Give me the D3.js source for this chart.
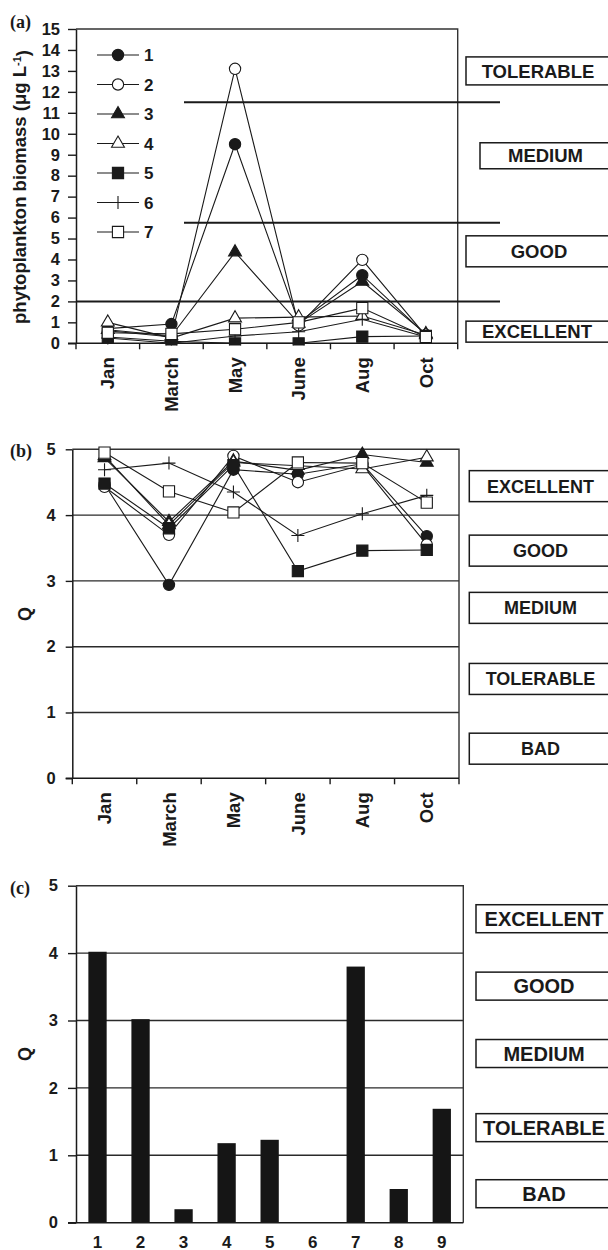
<!DOCTYPE html>
<html>
<head>
<meta charset="utf-8">
<script src="https://cdn.jsdelivr.net/npm/d3@7"></script>
<style>
  body { margin: 0; background: #fff; }
  svg { display: block; }
  text { font-family: "Liberation Sans", Arial, Helvetica, sans-serif; font-weight: bold; fill: #1a1a1a; }
  .plab { font-family: "Liberation Serif", "Times New Roman", serif; font-weight: bold; }
</style>
</head>
<body>
<svg id="fig" width="608" height="1250"></svg>
<script>
// ---- data ----
const months = ["Jan", "March", "May", "June", "Aug", "Oct"];
const siteNames = ["1", "2", "3", "4", "5", "6", "7"];

// (a) phytoplankton biomass, µg L-1, per site and month
const biomass1 = [0.7, 0.92, 9.5, 1.0, 3.25, 0.4];
const biomass2 = [0.6, 0.3, 13.1, 0.85, 3.98, 0.35];
const biomass3 = [0.65, 0.35, 4.35, 0.95, 2.95, 0.45];
const biomass4 = [1.0, 0.25, 1.2, 1.25, 1.3, 0.4];
const biomass5 = [0.3, 0.1, 0.0, 0.0, 0.32, 0.35];
const biomass6 = [0.25, 0.0, 0.35, 0.55, 1.15, 0.3];
const biomass7 = [0.5, 0.45, 0.67, 1.0, 1.68, 0.3];
const biomassTicks = [0, 1, 2, 3, 4, 5, 6, 7, 8, 9, 10, 11, 12, 13, 14, 15];
const biomassLimits = [11.5, 5.75, 2];
const biomassClasses = ["TOLERABLE", "MEDIUM", "GOOD", "EXCELLENT"];

// (b) Q index per site and month
const q1 = [4.47, 2.94, 4.69, 4.62, 4.78, 3.68];
const q2 = [4.43, 3.7, 4.9, 4.5, 4.76, 3.55];
const q3 = [4.87, 3.9, 4.82, 4.68, 4.92, 4.8];
const q4 = [4.9, 3.85, 4.8, 4.75, 4.7, 4.88];
const q5 = [4.48, 3.8, 4.76, 3.15, 3.46, 3.47];
const q6 = [4.69, 4.79, 4.35, 3.69, 4.02, 4.3];
const q7 = [4.95, 4.36, 4.04, 4.8, 4.79, 4.19];
const qTicks = [0, 1, 2, 3, 4, 5];
const qClasses = ["EXCELLENT", "GOOD", "MEDIUM", "TOLERABLE", "BAD"];

// (c) Q index per station
const stations = ["1", "2", "3", "4", "5", "6", "7", "8", "9"];
const stationQ = [4.02, 3.02, 0.2, 1.18, 1.23, 0, 3.8, 0.5, 1.69];

// ---- drawing ----
const ink = "#1a1a1a";
const svg = d3.select("#fig");

const biomassSeries = [biomass1, biomass2, biomass3, biomass4, biomass5, biomass6, biomass7];
const qSeries = [q1, q2, q3, q4, q5, q6, q7];

// marker style for each site
const markerStyles = [
  { shape: "circle", filled: true },
  { shape: "circle", filled: false },
  { shape: "triangle", filled: true },
  { shape: "triangle", filled: false },
  { shape: "square", filled: true },
  { shape: "plus", filled: false },
  { shape: "square", filled: false }
];

function markerD(shape) {
  if (shape === "circle") return d3.symbol(d3.symbolCircle, 100)();
  if (shape === "triangle") return d3.symbol(d3.symbolTriangle, 72)();
  if (shape === "square") return d3.symbol(d3.symbolSquare, 125)();
  return "M-6.5,0H6.5M0,-6.5V6.5";
}

function drawMarker(g, x, y, style) {
  g.append("path")
    .attr("d", markerD(style.shape))
    .attr("transform", `translate(${x},${y})`)
    .attr("fill", style.shape === "plus" ? "none" : (style.filled ? ink : "#fff"))
    .attr("stroke", ink)
    .attr("stroke-width", 1.1);
}

function leftAxis(g, y, ticks, x0, tickLen, pad, fontSize) {
  const ax = g.append("g").attr("transform", `translate(${x0},0)`)
    .call(d3.axisLeft(y).tickValues(ticks).tickSize(tickLen).tickSizeOuter(0).tickPadding(pad).tickFormat(d3.format("d")));
  ax.select(".domain").attr("stroke", ink).attr("stroke-width", 1.5);
  ax.selectAll(".tick line").attr("stroke", ink).attr("stroke-width", 1.4);
  ax.selectAll(".tick text").attr("fill", ink).style("font-size", fontSize + "px")
    .style("font-family", "'Liberation Sans', Arial, sans-serif").style("font-weight", "bold");
}

function bottomMonthAxis(g, x, yPix, xLeft, xRight) {
  g.append("line").attr("x1", xLeft).attr("x2", xRight).attr("y1", yPix).attr("y2", yPix)
    .attr("stroke", ink).attr("stroke-width", 1.5);
  const edges = months.map(m => x(m)).concat([x(months[months.length - 1]) + x.bandwidth()]);
  g.selectAll(null).data(edges).join("line")
    .attr("x1", d => d).attr("x2", d => d).attr("y1", yPix).attr("y2", yPix + 6)
    .attr("stroke", ink).attr("stroke-width", 1.4);
  g.selectAll(null).data(months).join("text")
    .attr("transform", d => `translate(${x(d) + x.bandwidth() / 2},${yPix + 14}) rotate(-90)`)
    .attr("text-anchor", "end").attr("dy", "0.36em")
    .style("font-size", "18.5px").text(d => d);
}

function frame(g, xl, xr, yt, yb) {
  g.append("path").attr("d", `M${xl},${yt}H${xr}V${yb}`)
    .attr("fill", "none").attr("stroke", "#333").attr("stroke-width", 1.4);
}

function classBoxes(g, items, fontSize) {
  items.forEach(b => {
    g.append("rect").attr("x", b.x).attr("y", b.cy - b.h / 2).attr("width", 150).attr("height", b.h)
      .attr("fill", "#fff").attr("stroke", ink).attr("stroke-width", 1.5);
    g.append("text").attr("x", b.tx).attr("y", b.cy).attr("dy", "0.36em")
      .attr("text-anchor", "middle").style("font-size", fontSize + "px").text(b.label);
  });
}

function seriesLines(g, x, y, series) {
  const line = d3.line().x((d, i) => x(months[i]) + x.bandwidth() / 2).y(d => y(d));
  series.forEach((vals, s) => {
    g.append("path").attr("d", line(vals)).attr("fill", "none").attr("stroke", ink).attr("stroke-width", 1.1);
    vals.forEach((v, i) => drawMarker(g, x(months[i]) + x.bandwidth() / 2, y(v), markerStyles[s]));
  });
}

// ===== (a) biomass =====
{
  const x = d3.scaleBand().domain(months).range([76, 457.7]);
  const y = d3.scaleLinear().domain([0, 15]).range([343.3, 29]);
  const g = svg.append("g");

  svg.append("defs").append("clipPath").attr("id", "clipA")
    .append("rect").attr("x", 60).attr("y", 10).attr("width", 420).attr("height", 335.5);

  frame(g, 76, 457.7, 29, 343.3);

  // class limits
  const limitStart = [184, 184, 76];
  biomassLimits.forEach((v, i) => {
    g.append("line").attr("x1", limitStart[i]).attr("x2", 500).attr("y1", y(v)).attr("y2", y(v))
      .attr("stroke", ink).attr("stroke-width", 2);
  });

  const data = g.append("g").attr("clip-path", "url(#clipA)");
  seriesLines(data, x, y, biomassSeries);

  leftAxis(g, y, biomassTicks, 76, 8, 8, 16.5);
  bottomMonthAxis(g, x, 343.3, 68, 457.7);

  // legend
  siteNames.forEach((n, i) => {
    const ly = 55 + i * 29.5;
    g.append("line").attr("x1", 97).attr("x2", 139).attr("y1", ly).attr("y2", ly)
      .attr("stroke", ink).attr("stroke-width", 1.1);
    drawMarker(g, 118, ly, markerStyles[i]);
    g.append("text").attr("x", 144).attr("y", ly).attr("dy", "0.36em").style("font-size", "17px").text(n);
  });

  // y title
  const t = g.append("text").attr("transform", "translate(26,187) rotate(-90)")
    .attr("text-anchor", "middle").style("font-size", "18.5px");
  t.append("tspan").text("phytoplankton biomass (\u03bcg L");
  t.append("tspan").attr("dy", "-0.45em").style("font-size", "11px").text("-1");
  t.append("tspan").attr("dy", "0.45em").text(")");

  g.append("text").attr("class", "plab").attr("x", 10).attr("y", 28).style("font-size", "18px").text("(a)");

  const boxesA = [
    { label: biomassClasses[0], cy: y(13.0), h: 28, x: 466, tx: 538 },
    { label: biomassClasses[1], cy: y(8.95), h: 26, x: 480, tx: 545.5 },
    { label: biomassClasses[2], cy: y(4.39), h: 31, x: 466, tx: 539 },
    { label: biomassClasses[3], cy: y(0.556), h: 21, x: 466, tx: 537 }
  ];
  classBoxes(g, boxesA, 18.5);
}

// ===== (b) Q by month =====
{
  const x = d3.scaleBand().domain(months).range([72.3, 459]);
  const y = d3.scaleLinear().domain([0, 5]).range([778.3, 449.3]);
  const g = svg.append("g");

  [1, 2, 3, 4].forEach(v => {
    g.append("line").attr("x1", 72.3).attr("x2", 459).attr("y1", y(v)).attr("y2", y(v))
      .attr("stroke", "#2a2a2a").attr("stroke-width", 1.4);
  });
  frame(g, 72.3, 459, 449.3, 778.3);

  seriesLines(g, x, y, qSeries);

  leftAxis(g, y, qTicks, 72.3, 6.6, 10, 16.5);
  bottomMonthAxis(g, x, 778.3, 65.7, 459);

  g.append("text").attr("transform", "translate(25,614) rotate(-90)")
    .attr("text-anchor", "middle").attr("dy", "0.36em").style("font-size", "18px").text("Q");
  g.append("text").attr("class", "plab").attr("x", 10).attr("y", 457).style("font-size", "18px").text("(b)");

  const centers = [4.44, 3.46, 2.59, 1.51, 0.45];
  const boxesB = qClasses.map((c, i) => ({ label: c, cy: y(centers[i]), h: 31, x: 469.3, tx: 540.5 }));
  classBoxes(g, boxesB, 18);
}

// ===== (c) Q by station =====
{
  const x = d3.scaleBand().domain(stations).range([76, 463.3]).paddingInner(0.575).paddingOuter(0.2875);
  const y = d3.scaleLinear().domain([0, 5]).range([1222.7, 885.7]);
  const g = svg.append("g");

  [1, 2, 3, 4].forEach(v => {
    g.append("line").attr("x1", 76).attr("x2", 463.3).attr("y1", y(v)).attr("y2", y(v))
      .attr("stroke", "#2a2a2a").attr("stroke-width", 1.4);
  });
  frame(g, 76, 463.3, 885.7, 1222.7);

  g.selectAll(null).data(stationQ).join("rect")
    .attr("x", (d, i) => x(stations[i])).attr("width", x.bandwidth())
    .attr("y", d => y(d)).attr("height", d => y(0) - y(d))
    .attr("fill", "#151515");

  leftAxis(g, y, qTicks, 76, 8, 10, 16.5);
  g.append("line").attr("x1", 68).attr("x2", 463.3).attr("y1", y(0)).attr("y2", y(0))
    .attr("stroke", ink).attr("stroke-width", 1.5);

  g.selectAll(null).data(stations).join("text")
    .attr("x", d => x(d) + x.bandwidth() / 2).attr("y", 1247.5)
    .attr("text-anchor", "middle").style("font-size", "17px").text(d => d);

  g.append("text").attr("transform", "translate(25,1054) rotate(-90)")
    .attr("text-anchor", "middle").attr("dy", "0.36em").style("font-size", "18px").text("Q");
  g.append("text").attr("class", "plab").attr("x", 10).attr("y", 894).style("font-size", "18px").text("(c)");

  const centers = [4.51, 3.51, 2.51, 1.41, 0.43];
  const boxesC = qClasses.map((c, i) => ({ label: c, cy: y(centers[i]), h: 28, x: 476, tx: 544 }));
  classBoxes(g, boxesC, 20);
}
</script>
</body>
</html>
